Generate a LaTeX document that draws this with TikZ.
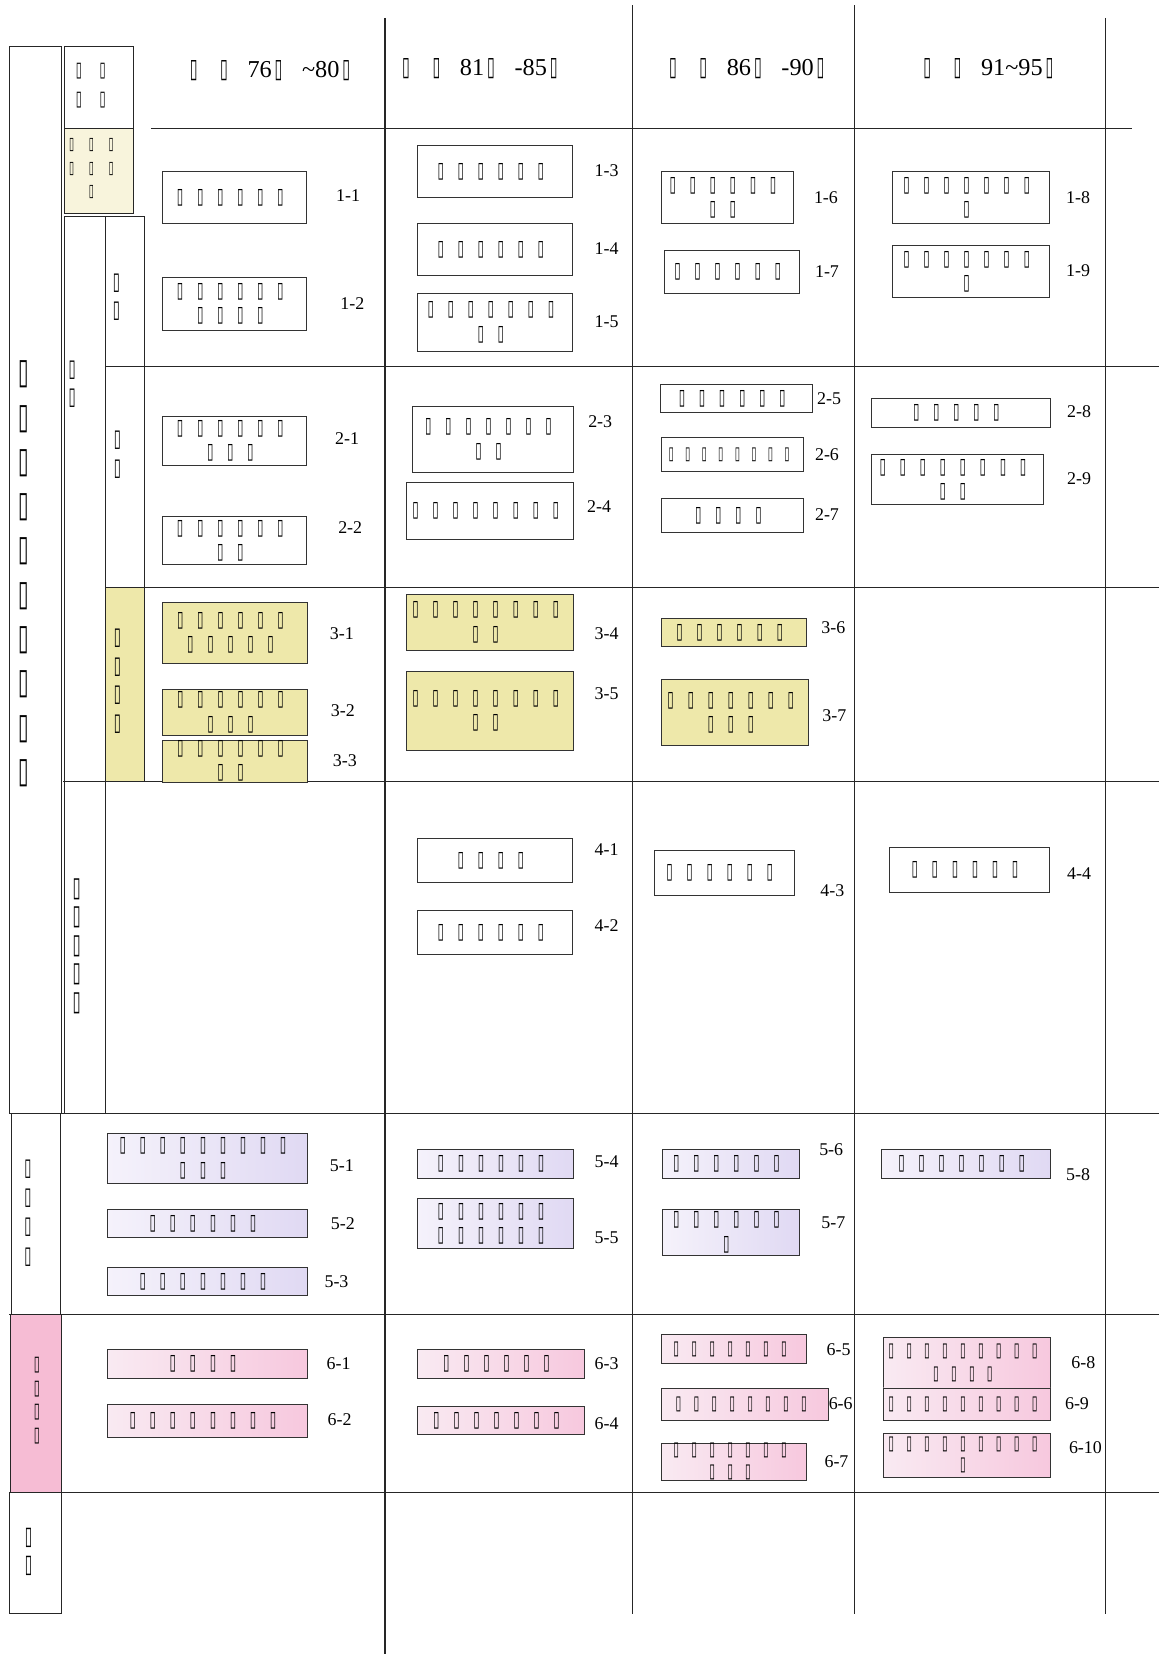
\documentclass[tikz,border=0pt]{standalone}
\usepackage{fontspec}
\usepackage{graphicx}
\usepackage{newunicodechar}
\setmainfont{Liberation Serif}
\newfontfamily\symfont{DejaVu Sans}
\newunicodechar{▯}{\makebox[1em][l]{\hspace{0.12em}\resizebox{0.32em}{0.7em}{\symfont\bfseries\char"25AF}}}

\definecolor{khaki}{RGB}{238,232,170}
\definecolor{cream}{RGB}{248,244,220}
\definecolor{lavlo}{RGB}{245,242,251}
\definecolor{lavhi}{RGB}{224,217,243}
\definecolor{pinklo}{RGB}{249,234,242}
\definecolor{pinkhi}{RGB}{247,200,222}
\definecolor{rosecell}{RGB}{246,188,212}

\begin{document}
\begin{tikzpicture}[
    x=1pt, y=-1pt,
    rule/.style={draw=black!85, line width=1pt},
    wh/.style 2 args={minimum width=#1, minimum height=#2},
    item/.style={
        draw=black!80,
        line width=0.9pt,
        inner sep=0pt,
        align=center,
        font=\fontsize{19}{23}\selectfont
    },
    core/.style={item, fill=khaki},
    lav/.style={item, left color=lavlo, right color=lavhi},
    rose/.style={item, left color=pinklo, right color=pinkhi},
    tag/.style={inner sep=0pt, font=\fontsize{17}{20}\selectfont},
    head/.style={inner sep=0pt, font=\fontsize{23}{28}\selectfont},
    stack/.style={inner sep=0pt, align=center}
]
\useasboundingbox (0,0) rectangle (1099,1568);

% grid
\draw[rule] (365,17) -- (365,1568);
\draw[rule] (600,5) -- (600,1530);
\draw[rule] (810,5) -- (810,1530);
\draw[rule] (1048,17) -- (1048,1530);
\draw[rule] (143,122) -- (1073,122);
\draw[rule] (100,347) -- (1099,347);
\draw[rule] (100,557) -- (1099,557);
\draw[rule] (60,741) -- (1099,741);
\draw[rule] (9,1056) -- (1099,1056);
\draw[rule] (9,1246) -- (1099,1246);
\draw[rule] (9,1415) -- (1099,1415);

% left cells
\draw[rule] (9,44) rectangle (58,1056);
\draw[rule] (61,44) rectangle (127,122);
\draw[rule, fill=cream] (61,122) rectangle (127,202);
\draw[rule] (61,205) rectangle (100,741);
\draw[rule] (61,741) rectangle (100,1056);
\draw[rule] (100,205) rectangle (137,347);
\draw[rule] (100,347) rectangle (137,557);
\draw[rule, fill=khaki] (100,557) rectangle (137,741);
\draw[rule] (11,1056) rectangle (57,1246);
\draw[rule, fill=rosecell] (10,1246) rectangle (58,1415);
\draw[rule] (9,1415) rectangle (58,1530);

% left texts
\node[stack, font=\fontsize{31}{42}\selectfont] (title) at (29,544) {▯\\▯\\▯\\▯\\▯\\▯\\▯\\▯\\▯\\▯};
\node[stack, font=\fontsize{18}{28}\selectfont] (corner) at (90,81) {▯ ▯\\▯ ▯};
\node[stack, font=\fontsize{15}{22.5}\selectfont] (key) at (90,160) {▯ ▯ ▯\\▯ ▯ ▯\\▯};
\node[stack, font=\fontsize{21}{27}\selectfont] (colb) at (73,364) {▯\\▯};
\node[stack, font=\fontsize{24}{27}\selectfont] (colbb) at (78,897) {▯\\▯\\▯\\▯\\▯};
\node[stack, font=\fontsize{21}{27}\selectfont] (colc1) at (115,282) {▯\\▯};
\node[stack, font=\fontsize{21}{27}\selectfont] (colc2) at (116,431) {▯\\▯};
\node[stack, font=\fontsize{21}{27}\selectfont] (colc3) at (116,646) {▯\\▯\\▯\\▯};
\node[stack, font=\fontsize{21}{27.7}\selectfont] (sec5) at (31,1150) {▯\\▯\\▯\\▯};
\node[stack, font=\fontsize{18}{22.3}\selectfont] (sec6) at (39,1328) {▯\\▯\\▯\\▯};
\node[stack, font=\fontsize{22}{27}\selectfont] (sec7) at (32,1471) {▯\\▯};

% header
\node[head] (h1) at (261,67) {▯ ▯ 76▯ \textasciitilde80▯};
\node[head] (h2) at (460,65) {▯ ▯ 81▯ -85▯};
\node[head] (h3) at (713,65) {▯ ▯ 86▯ -90▯};
\node[head] (h4) at (942,65) {▯ ▯ 91\textasciitilde95▯};

% row 1
\node[item, wh={137}{49}] (b11) at (222.5,187.5) {▯▯▯▯▯▯};
\node[item, wh={137}{50}] (b12) at (222.5,288) {▯▯▯▯▯▯\\▯▯▯▯};
\node[item, wh={147}{49}] (b13) at (469.5,162.5) {▯▯▯▯▯▯};
\node[item, wh={147}{49}] (b14) at (469.5,236.5) {▯▯▯▯▯▯};
\node[item, wh={147}{55}] (b15) at (469.5,305.5) {▯▯▯▯▯▯▯\\▯▯};
\node[item, wh={125}{49}] (b16) at (689.5,187.5) {▯▯▯▯▯▯\\▯▯};
\node[item, wh={128}{41}] (b17) at (694,257.5) {▯▯▯▯▯▯};
\node[item, wh={149}{49}] (b18) at (920.5,187.5) {▯▯▯▯▯▯▯\\▯};
\node[item, wh={149}{49}] (b19) at (920.5,257.5) {▯▯▯▯▯▯▯\\▯};
\node[tag] (l11) at (330,185) {1-1};
\node[tag] (l12) at (334,288) {1-2};
\node[tag] (l13) at (575,162) {1-3};
\node[tag] (l14) at (575,236) {1-4};
\node[tag] (l15) at (575,305) {1-5};
\node[tag] (l16) at (783,187) {1-6};
\node[tag] (l17) at (784,257) {1-7};
\node[tag] (l18) at (1022,187) {1-8};
\node[tag] (l19) at (1022,257) {1-9};

% row 2
\node[item, wh={137}{47}] (b21) at (222.5,418) {▯▯▯▯▯▯\\▯▯▯};
\node[item, wh={137}{45}] (b22) at (222.5,512.5) {▯▯▯▯▯▯\\▯▯};
\node[item, wh={152.6}{63}] (b23) at (467.3,416.5) {▯▯▯▯▯▯▯\\▯▯};
\node[item, wh={158}{53.3}] (b24) at (464.6,484.4) {▯▯▯▯▯▯▯▯};
\node[item, wh={144.6}{27}] (b25) at (698.3,377.9) {▯▯▯▯▯▯};
\node[item, wh={134.6}{31.6}, font=\fontsize{15.7}{19}\selectfont] (b26) at (694.7,430.8) {▯▯▯▯▯▯▯▯};
\node[item, wh={134.6}{32}] (b27) at (694.7,489) {▯▯▯▯};
\node[item, wh={169.6}{28}] (b28) at (910.8,391.5) {▯▯▯▯▯};
\node[item, wh={163}{47.7}] (b29) at (907.5,454.7) {▯▯▯▯▯▯▯▯\\▯▯};
\node[tag] (l21) at (329,416) {2-1};
\node[tag] (l22) at (332,500) {2-2};
\node[tag] (l23) at (569,400) {2-3};
\node[tag] (l24) at (568,480) {2-4};
\node[tag] (l25) at (786,378) {2-5};
\node[tag] (l26) at (784,431) {2-6};
\node[tag] (l27) at (784,488) {2-7};
\node[tag] (l28) at (1023,390) {2-8};
\node[tag] (l29) at (1023,454) {2-9};

% row 3
\node[core, wh={136.7}{57.7}] (b31) at (222.7,599.9) {▯▯▯▯▯▯\\▯▯▯▯▯};
\node[core, wh={136.7}{43.7}] (b32) at (222.7,675.2) {▯▯▯▯▯▯\\▯▯▯};
\node[core, wh={136.7}{39.8}] (b33) at (222.7,721.6) {▯▯▯▯▯▯\\▯▯};
\node[core, wh={158}{52.8}] (b34) at (464.6,589.9) {▯▯▯▯▯▯▯▯\\▯▯};
\node[core, wh={158}{74}] (b35) at (464.6,674) {▯▯▯▯▯▯▯▯\\▯▯};
\node[core, wh={136.9}{26.3}] (b36) at (695.9,599.8) {▯▯▯▯▯▯};
\node[core, wh={139.1}{62.5}] (b37) at (697,675.8) {▯▯▯▯▯▯▯\\▯▯▯};
\node[tag] (l31) at (324,601) {3-1};
\node[tag] (l32) at (325,674) {3-2};
\node[tag] (l33) at (327,721) {3-3};
\node[tag] (l34) at (575,601) {3-4};
\node[tag] (l35) at (575,658) {3-5};
\node[tag] (l36) at (790,595) {3-6};
\node[tag] (l37) at (791,678) {3-7};

% row 4
\node[item, wh={147}{42}] (b41) at (469.5,816) {▯▯▯▯};
\node[item, wh={147}{42}] (b42) at (469.5,884) {▯▯▯▯▯▯};
\node[item, wh={133}{43}] (b43) at (686.5,827.5) {▯▯▯▯▯▯};
\node[item, wh={152}{43}] (b44) at (919,824.5) {▯▯▯▯▯▯};
\node[tag] (l41) at (575,805) {4-1};
\node[tag] (l42) at (575,877) {4-2};
\node[tag] (l43) at (789,844) {4-3};
\node[tag] (l44) at (1023,828) {4-4};

% row 5
\node[lav, wh={189.6}{47.4}] (b51) at (196.6,1098.1) {▯▯▯▯▯▯▯▯▯\\▯▯▯};
\node[lav, wh={189.6}{27}] (b52) at (196.6,1159.9) {▯▯▯▯▯▯};
\node[lav, wh={189.6}{27.1}] (b53) at (196.6,1215) {▯▯▯▯▯▯▯};
\node[lav, wh={147.9}{26.9}] (b54) at (469.7,1103.3) {▯▯▯▯▯▯};
\node[lav, wh={147.9}{47.4}] (b55) at (469.7,1160) {▯▯▯▯▯▯\\▯▯▯▯▯▯};
\node[lav, wh={129.6}{26.9}] (b56) at (692.8,1103.3) {▯▯▯▯▯▯};
\node[lav, wh={129.6}{43.6}] (b57) at (692.8,1168.2) {▯▯▯▯▯▯\\▯};
\node[lav, wh={159.6}{26.9}] (b58) at (915.8,1103.3) {▯▯▯▯▯▯▯};
\node[tag] (l51) at (324,1105) {5-1};
\node[tag] (l52) at (325,1160) {5-2};
\node[tag] (l53) at (319,1215) {5-3};
\node[tag] (l54) at (575,1101) {5-4};
\node[tag] (l55) at (575,1173) {5-5};
\node[tag] (l56) at (788,1090) {5-6};
\node[tag] (l57) at (790,1159) {5-7};
\node[tag] (l58) at (1022,1114) {5-8};

% row 6
\node[rose, wh={189.6}{27.3}] (b61) at (196.6,1292.7) {▯▯▯▯};
\node[rose, wh={189.6}{31}] (b62) at (196.6,1346.8) {▯▯▯▯▯▯▯▯};
\node[rose, wh={158.3}{27.3}] (b63) at (474.9,1292.7) {▯▯▯▯▯▯};
\node[rose, wh={158.3}{26.8}] (b64) at (474.9,1346.6) {▯▯▯▯▯▯▯};
\node[rose, wh={136.9}{27.3}, font=\fontsize{17}{21}\selectfont] (b65) at (695.9,1278.9) {▯▯▯▯▯▯▯};
\node[rose, wh={158}{30.7}, font=\fontsize{17}{21}\selectfont] (b66) at (706.4,1331.2) {▯▯▯▯▯▯▯▯};
\node[rose, wh={136.9}{27.6}, font=\fontsize{17}{21}\selectfont] (b67) at (695.9,1385.8) {▯▯▯▯▯▯▯\\▯▯▯};
\node[rose, wh={158}{48}, font=\fontsize{17}{22}\selectfont] (b68) at (916.6,1291.8) {▯▯▯▯▯▯▯▯▯\\▯▯▯▯};
\node[rose, wh={158}{31}, font=\fontsize{17}{21}\selectfont] (b69) at (916.6,1331.3) {▯▯▯▯▯▯▯▯▯};
\node[rose, wh={158}{41.7}, font=\fontsize{17}{20}\selectfont] (b610) at (916.6,1379.4) {▯▯▯▯▯▯▯▯▯\\▯};
\node[tag] (l61) at (321,1293) {6-1};
\node[tag] (l62) at (322,1346) {6-2};
\node[tag] (l63) at (575,1293) {6-3};
\node[tag] (l64) at (575,1350) {6-4};
\node[tag] (l65) at (795,1279) {6-5};
\node[tag] (l66) at (797,1331) {6-6};
\node[tag] (l67) at (793,1386) {6-7};
\node[tag] (l68) at (1027,1292) {6-8};
\node[tag] (l69) at (1021,1331) {6-9};
\node[tag] (l610) at (1029,1372) {6-10};

\end{tikzpicture}
\end{document}
